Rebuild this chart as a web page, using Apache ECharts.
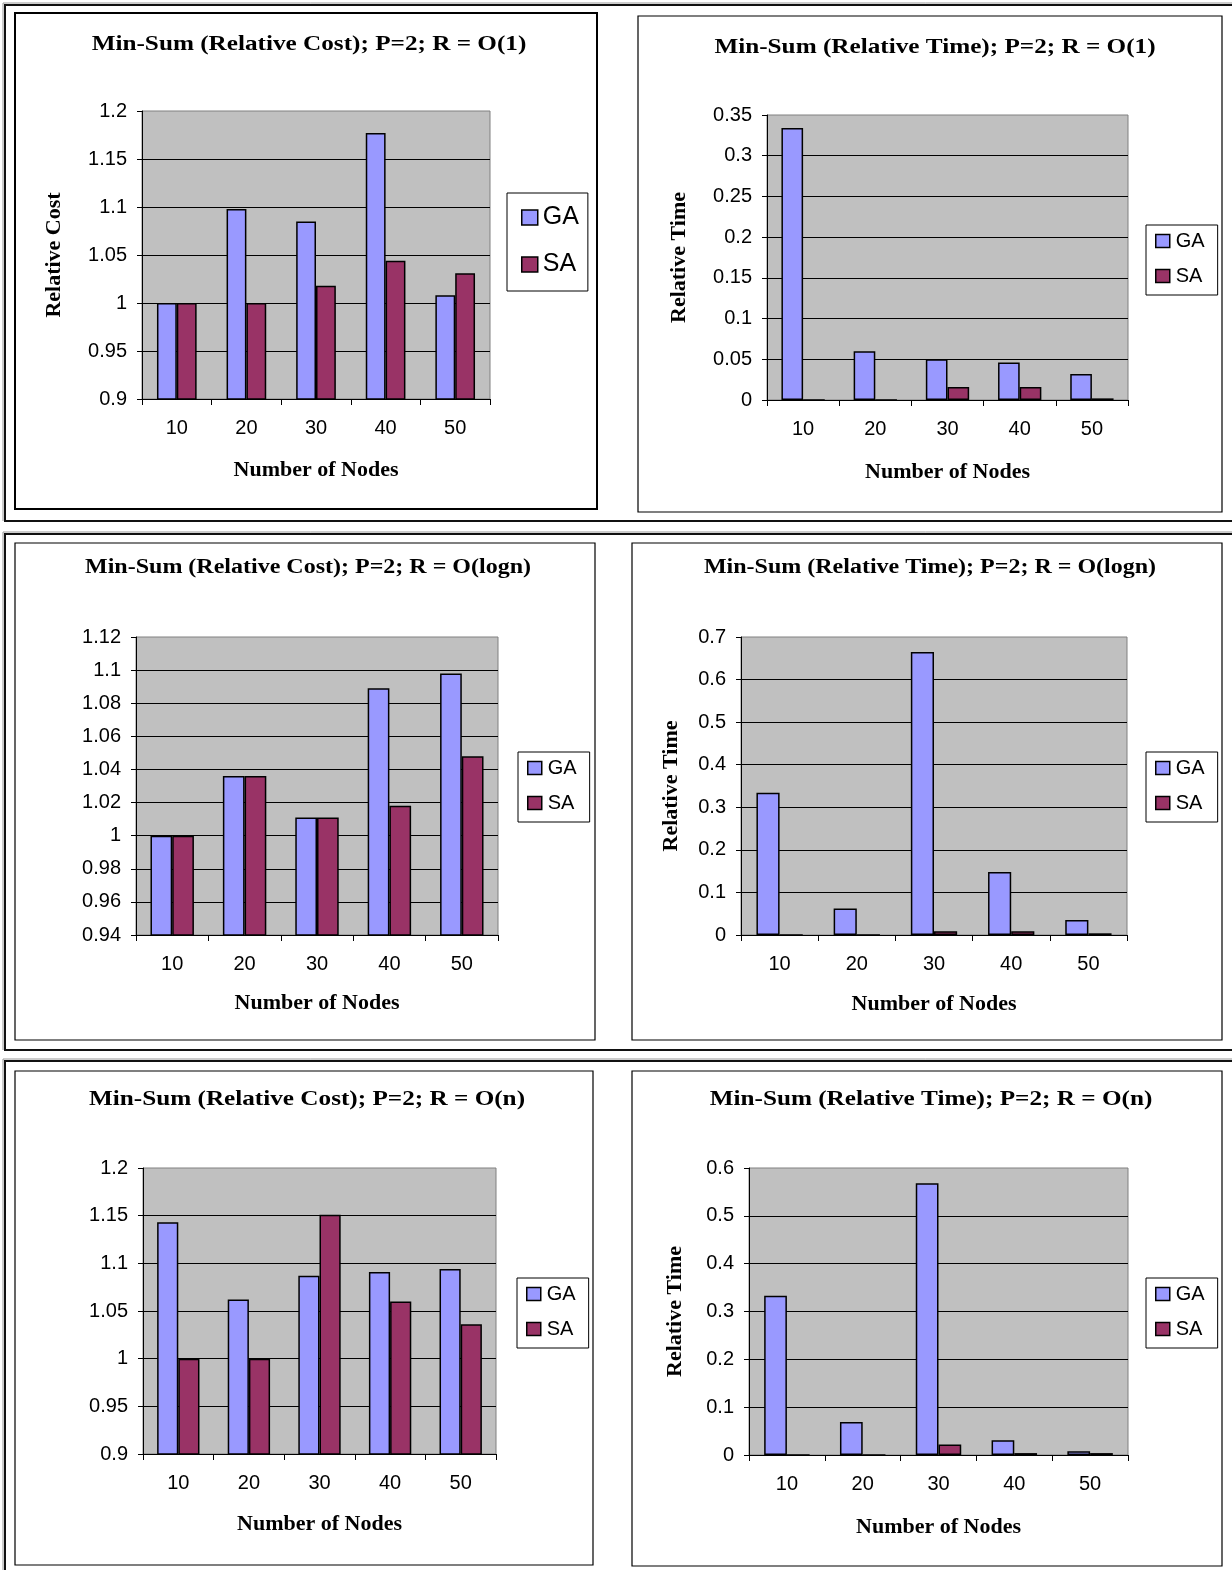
<!DOCTYPE html>
<html>
<head>
<meta charset="utf-8">
<script src="https://cdn.jsdelivr.net/npm/echarts@6/dist/echarts.min.js"></script>
<style>
  html, body { margin: 0; padding: 0; background: #fff; }
  #chart { width: 1232px; height: 1570px; }
</style>
</head>
<body>
<div id="chart"></div>
<script>
// Category labels shared by every panel
const nodes = ['10', '20', '30', '40', '50'];
const seriesNames = ['GA', 'SA'];

// R = O(1)
const costO1GA = [1.000, 1.098, 1.085, 1.177, 1.008];
const costO1SA = [1.000, 1.000, 1.018, 1.044, 1.031];
const timeO1GA = [0.334, 0.060, 0.050, 0.046, 0.032];
const timeO1SA = [0, 0, 0.016, 0.016, 0.002];

// R = O(logn)
const costLognGA = [1.000, 1.036, 1.011, 1.089, 1.098];
const costLognSA = [1.000, 1.036, 1.011, 1.018, 1.048];
const timeLognGA = [0.334, 0.062, 0.665, 0.148, 0.035];
const timeLognSA = [0, 0, 0.009, 0.009, 0.004];

// R = O(n)
const costOnGA = [1.143, 1.062, 1.087, 1.091, 1.094];
const costOnSA = [1.000, 1.000, 1.151, 1.060, 1.036];
const timeOnGA = [0.333, 0.069, 0.568, 0.031, 0.008];
const timeOnSA = [0, 0, 0.022, 0.004, 0.004];

// Panel titles and axis texts
const titles = [
  'Min-Sum (Relative Cost); P=2; R = O(1)',
  'Min-Sum (Relative Time); P=2; R = O(1)',
  'Min-Sum (Relative Cost); P=2; R = O(logn)',
  'Min-Sum (Relative Time); P=2; R = O(logn)',
  'Min-Sum (Relative Cost); P=2; R = O(n)',
  'Min-Sum (Relative Time); P=2; R = O(n)'
];
const yNames = ['Relative Cost', 'Relative Time', '', 'Relative Time', '', 'Relative Time'];
const xName = 'Number of Nodes';

// Value-axis ranges: [min, max, interval]
const yRanges = [
  [0.9, 1.2, 0.05],
  [0, 0.35, 0.05],
  [0.94, 1.12, 0.02],
  [0, 0.7, 0.1],
  [0.9, 1.2, 0.05],
  [0, 0.6, 0.1]
];

const gaData = [costO1GA, timeO1GA, costLognGA, timeLognGA, costOnGA, timeOnGA];
const saData = [costO1SA, timeO1SA, costLognSA, timeLognSA, costOnSA, timeOnSA];

// Layout of each panel on the page
const layout = [
  { grid: [142, 111, 348, 288], title: [309, 45, 21, 1.2], yGap: 77, xGap: 60,
    legend: [507, 193], legendBig: true, catGap: '43%', box: [15, 13, 582, 496], boxW: 2 },
  { grid: [767, 115, 361, 285], title: [935, 48, 21, 1.2], yGap: 77, xGap: 61,
    legend: [1146, 225], legendBig: false, catGap: '40%', box: [638, 16, 584, 496], boxW: 1.2 },
  { grid: [136, 637, 362, 298], title: [308, 568, 20, 1.2], yGap: 70, xGap: 57,
    legend: [518, 752], legendBig: false, catGap: '40%', box: [15, 543, 580, 497], boxW: 1.2 },
  { grid: [741, 637, 386, 298], title: [930, 568, 20, 1.2], yGap: 59, xGap: 58,
    legend: [1146, 752], legendBig: false, catGap: '40%', box: [632, 543, 590, 497], boxW: 1.2 },
  { grid: [143, 1168, 353, 286], title: [307, 1100, 21, 1.2], yGap: 70, xGap: 59,
    legend: [517, 1278], legendBig: false, catGap: '40%', box: [15, 1071, 578, 494], boxW: 1.2 },
  { grid: [749, 1168, 379, 287], title: [931, 1100, 21, 1.2], yGap: 63, xGap: 61,
    legend: [1146, 1278], legendBig: false, catGap: '40%', box: [632, 1071, 590, 495], boxW: 1.2 }
];

const SERIF = '"Liberation Serif", "Times New Roman", serif';
const SANS = '"Liberation Sans", Arial, sans-serif';
const GA_COLOR = '#9999FF';
const SA_COLOR = '#993366';
const NAME_SIZE = 22;
const TICK_SIZE = 20;

const option = {
  animation: false,
  backgroundColor: '#ffffff',
  grid: [], xAxis: [], yAxis: [], legend: [], series: [], graphic: []
};

layout.forEach((p, i) => {
  const [gl, gt, gw, gh] = p.grid;
  const [ymin, ymax, ystep] = yRanges[i];
  const [tx, ty, tsize, tscale] = p.title;

  // Panel title, slightly widened like the original typesetting
  option.graphic.push({
    type: 'text', x: tx, y: ty, scaleX: tscale, z: 10,
    style: {
      text: titles[i], fill: '#000',
      font: 'bold ' + tsize + 'px ' + SERIF,
      textAlign: 'center', textVerticalAlign: 'middle',
      align: 'center', verticalAlign: 'middle'
    }
  });

  option.grid.push({
    left: gl, top: gt, width: gw, height: gh,
    show: true, backgroundColor: '#C0C0C0', borderColor: '#808080', borderWidth: 1
  });

  option.xAxis.push({
    type: 'category', gridIndex: i, data: nodes,
    name: xName, nameLocation: 'middle', nameGap: p.xGap,
    nameTextStyle: { fontFamily: SERIF, fontWeight: 'bold', fontSize: NAME_SIZE, color: '#000' },
    axisLine: { show: true, lineStyle: { color: '#000', width: 1 } },
    axisTick: { show: true, length: 6, alignWithLabel: false, lineStyle: { color: '#000' } },
    axisLabel: { fontFamily: SANS, fontSize: TICK_SIZE, color: '#000', margin: 19 },
    splitLine: { show: false }
  });

  option.yAxis.push({
    type: 'value', gridIndex: i, min: ymin, max: ymax, interval: ystep,
    name: yNames[i], nameLocation: 'middle', nameGap: p.yGap, nameRotate: 90,
    nameTextStyle: { fontFamily: SERIF, fontWeight: 'bold', fontSize: NAME_SIZE, color: '#000' },
    axisLine: { show: true, lineStyle: { color: '#000', width: 1 } },
    axisTick: { show: true, length: 5, lineStyle: { color: '#000' } },
    axisLabel: { fontFamily: SANS, fontSize: TICK_SIZE, color: '#000', margin: 15 },
    splitLine: { show: true, showMinLine: false, showMaxLine: false, lineStyle: { color: '#000', width: 1 } }
  });

  const big = p.legendBig;
  option.legend.push({
    data: seriesNames,
    orient: 'vertical',
    left: p.legend[0], top: p.legend[1],
    icon: 'rect',
    itemWidth: big ? 16 : 14, itemHeight: big ? 15 : 13,
    itemGap: big ? 22 : 15,
    padding: big ? [12, 9, 14, 14] : [6, 13, 9, 9],
    backgroundColor: '#fff', borderColor: '#000', borderWidth: 1,
    itemStyle: { borderColor: '#000', borderWidth: 1.5 },
    textStyle: { fontFamily: SANS, fontSize: big ? 25 : 20, color: '#000', padding: [0, 0, 0, big ? 0 : 1] }
  });

  [[seriesNames[0], gaData[i], GA_COLOR], [seriesNames[1], saData[i], SA_COLOR]].forEach(([nm, vals, col]) => {
    option.series.push({
      type: 'bar', name: nm, xAxisIndex: i, yAxisIndex: i, data: vals,
      barGap: '0%', barCategoryGap: p.catGap, clip: true,
      itemStyle: { color: col, borderColor: '#000', borderWidth: 1.5 },
      emphasis: { disabled: true }
    });
  });

  const [bx, by, bw, bh] = p.box;
  option.graphic.push({
    type: 'rect', shape: { x: bx, y: by, width: bw, height: bh }, z: 0,
    style: { fill: 'none', stroke: '#000', lineWidth: p.boxW }
  });
});

// Row frames around each pair of panels
const rowFrames = [[5, 521], [534, 1050], [1061, 1575]];
rowFrames.forEach(([top, bottom]) => {
  option.graphic.push(
    { type: 'polyline', shape: { points: [[1240, top], [5, top], [5, bottom], [1240, bottom]] }, z: 0,
      style: { fill: 'none', stroke: '#111', lineWidth: 2 } },
    { type: 'polyline', shape: { points: [[1240, top - 2], [3, top - 2], [3, bottom]] }, z: 0,
      style: { fill: 'none', stroke: '#999', lineWidth: 1 } }
  );
});

const chart = echarts.init(document.getElementById('chart'), null, { renderer: 'canvas' });
chart.setOption(option);
</script>
</body>
</html>
